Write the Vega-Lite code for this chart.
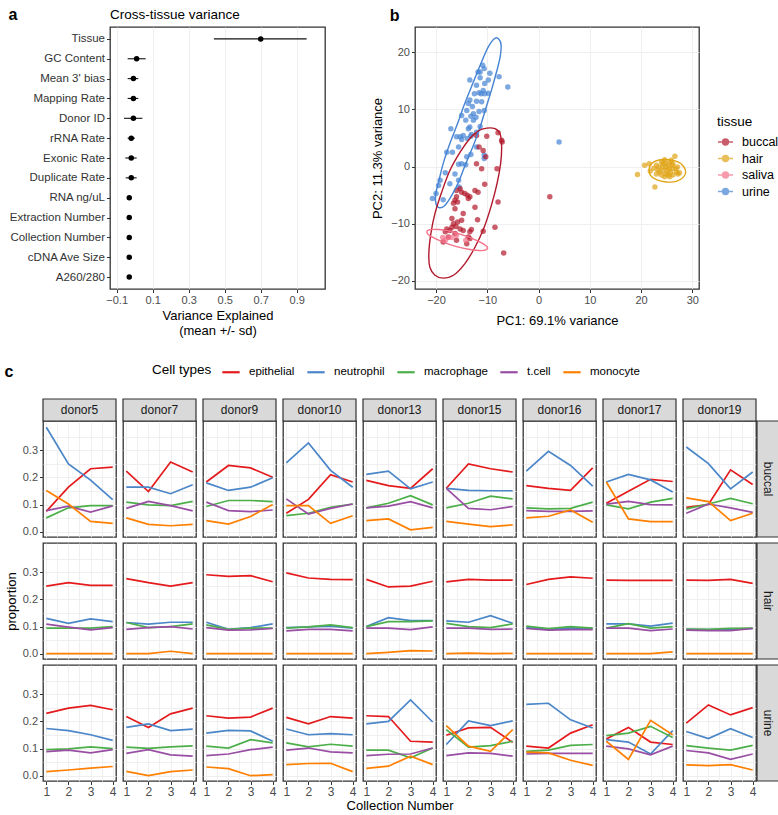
{
"$schema":"https://vega.github.io/schema/vega-lite/v6.json",
"padding":{"left":4,"top":6,"right":0,"bottom":0},
"config":{"font":"Liberation Sans","view":{"stroke":"#333","strokeWidth":1.3},
"axis":{"gridColor":"#ebebeb","gridWidth":0.8,"domain":false,"labelOverlap":false,"labelFlush":false,"tickColor":"#333","tickSize":3.5,"labelColor":"#4d4d4d","labelFontSize":11,"titleFontWeight":"normal","titleFontSize":13,"titleColor":"#000","labelPadding":2},
"legend":{"titleFontWeight":"normal","labelColor":"#000","titleColor":"#000"},
"title":{"fontWeight":"normal","color":"#000"}},
"datasets":{
"va":[{"v":"Tissue","m":0.70,"lo":0.44,"hi":0.955},{"v":"GC Content","m":0.011,"lo":-0.039,"hi":0.061},{"v":"Mean 3' bias","m":-0.007,"lo":-0.039,"hi":0.02},{"v":"Mapping Rate","m":-0.007,"lo":-0.039,"hi":0.02},{"v":"Donor ID","m":-0.007,"lo":-0.059,"hi":0.043},{"v":"rRNA Rate","m":-0.019,"lo":-0.039,"hi":0.002},{"v":"Exonic Rate","m":-0.019,"lo":-0.052,"hi":0.011},{"v":"Duplicate Rate","m":-0.019,"lo":-0.05,"hi":0.011},{"v":"RNA ng/uL","m":-0.03,"lo":-0.03,"hi":-0.03},{"v":"Extraction Number","m":-0.03,"lo":-0.03,"hi":-0.03},{"v":"Collection Number","m":-0.03,"lo":-0.03,"hi":-0.03},{"v":"cDNA Ave Size","m":-0.03,"lo":-0.03,"hi":-0.03},{"v":"A260/280","m":-0.03,"lo":-0.03,"hi":-0.03}],
"pts":[{"tissue":"urine","x":-10.9,"y":17.7},{"tissue":"urine","x":-10.6,"y":17.1},{"tissue":"urine","x":-11.4,"y":16.5},{"tissue":"urine","x":-11.8,"y":16.5},{"tissue":"urine","x":-9.5,"y":16.3},{"tissue":"urine","x":-7.7,"y":15.7},{"tissue":"urine","x":-6.0,"y":13.9},{"tissue":"urine","x":-13.4,"y":15.1},{"tissue":"urine","x":-11.4,"y":15.5},{"tissue":"urine","x":-9.8,"y":15.1},{"tissue":"urine","x":-10.5,"y":14.5},{"tissue":"urine","x":-12.1,"y":14.2},{"tissue":"urine","x":-10.8,"y":13.3},{"tissue":"urine","x":-11.6,"y":12.9},{"tissue":"urine","x":-9.8,"y":12.8},{"tissue":"urine","x":-12.5,"y":12.7},{"tissue":"urine","x":-11.2,"y":12.7},{"tissue":"urine","x":-10.5,"y":12.7},{"tissue":"urine","x":-13.4,"y":11.6},{"tissue":"urine","x":-12.1,"y":11.4},{"tissue":"urine","x":-11.1,"y":11.3},{"tissue":"urine","x":-13.7,"y":11.0},{"tissue":"urine","x":-12.9,"y":10.5},{"tissue":"urine","x":-10.6,"y":9.8},{"tissue":"urine","x":-14.0,"y":9.8},{"tissue":"urine","x":-11.6,"y":9.6},{"tissue":"urine","x":-12.7,"y":9.2},{"tissue":"urine","x":-15.0,"y":8.9},{"tissue":"urine","x":-13.2,"y":8.8},{"tissue":"urine","x":-12.2,"y":8.6},{"tissue":"urine","x":-14.2,"y":8.1},{"tissue":"urine","x":-12.7,"y":8.1},{"tissue":"urine","x":-13.4,"y":6.9},{"tissue":"urine","x":-11.4,"y":7.0},{"tissue":"urine","x":-12.1,"y":6.0},{"tissue":"urine","x":-13.7,"y":6.6},{"tissue":"urine","x":-17.1,"y":6.6},{"tissue":"urine","x":-14.7,"y":5.4},{"tissue":"urine","x":-16.0,"y":5.2},{"tissue":"urine","x":-15.3,"y":5.2},{"tissue":"urine","x":-13.1,"y":5.6},{"tissue":"urine","x":-13.2,"y":5.3},{"tissue":"urine","x":-13.9,"y":4.9},{"tissue":"urine","x":-15.0,"y":4.7},{"tissue":"urine","x":-15.6,"y":3.4},{"tissue":"urine","x":-12.1,"y":3.4},{"tissue":"urine","x":-17.9,"y":2.5},{"tissue":"urine","x":-16.8,"y":2.5},{"tissue":"urine","x":-13.2,"y":2.1},{"tissue":"urine","x":-10.6,"y":2.0},{"tissue":"urine","x":-10.6,"y":1.4},{"tissue":"urine","x":-14.0,"y":1.7},{"tissue":"urine","x":-15.0,"y":0.5},{"tissue":"urine","x":-15.6,"y":0.4},{"tissue":"urine","x":-14.2,"y":0.3},{"tissue":"urine","x":-16.3,"y":-1.3},{"tissue":"urine","x":-18.2,"y":-1.1},{"tissue":"urine","x":-19.2,"y":-2.4},{"tissue":"urine","x":-15.6,"y":-2.4},{"tissue":"urine","x":-17.3,"y":-3.0},{"tissue":"urine","x":-19.5,"y":-3.3},{"tissue":"urine","x":-15.5,"y":-3.6},{"tissue":"urine","x":-20.7,"y":-5.6},{"tissue":"urine","x":-18.6,"y":-5.8},{"tissue":"urine","x":-20.0,"y":-4.7},{"tissue":"urine","x":4.0,"y":4.3},
{"tissue":"buccal","x":-7.9,"y":5.9},{"tissue":"buccal","x":-7.2,"y":4.6},{"tissue":"buccal","x":-7.1,"y":4.3},{"tissue":"buccal","x":-10.1,"y":5.3},{"tissue":"buccal","x":-12.1,"y":5.4},{"tissue":"buccal","x":-11.6,"y":3.4},{"tissue":"buccal","x":-10.8,"y":2.8},{"tissue":"buccal","x":-10.3,"y":1.7},{"tissue":"buccal","x":-12.1,"y":0.5},{"tissue":"buccal","x":-11.1,"y":-0.4},{"tissue":"buccal","x":-8.1,"y":-0.4},{"tissue":"buccal","x":-10.5,"y":-3.1},{"tissue":"buccal","x":-12.4,"y":-4.2},{"tissue":"buccal","x":-11.8,"y":-4.5},{"tissue":"buccal","x":-15.3,"y":-3.9},{"tissue":"buccal","x":-16.0,"y":-4.2},{"tissue":"buccal","x":-15.0,"y":-4.5},{"tissue":"buccal","x":-14.4,"y":-4.7},{"tissue":"buccal","x":-13.9,"y":-5.0},{"tissue":"buccal","x":-13.7,"y":-5.6},{"tissue":"buccal","x":-16.0,"y":-5.3},{"tissue":"buccal","x":-13.4,"y":-5.3},{"tissue":"buccal","x":-16.3,"y":-5.9},{"tissue":"buccal","x":-15.8,"y":-6.2},{"tissue":"buccal","x":-16.6,"y":-6.4},{"tissue":"buccal","x":-7.9,"y":-6.2},{"tissue":"buccal","x":-12.4,"y":-7.1},{"tissue":"buccal","x":-16.3,"y":-7.4},{"tissue":"buccal","x":-14.7,"y":-8.2},{"tissue":"buccal","x":-16.9,"y":-9.1},{"tissue":"buccal","x":-15.0,"y":-9.4},{"tissue":"buccal","x":-15.8,"y":-9.7},{"tissue":"buccal","x":-16.6,"y":-10.0},{"tissue":"buccal","x":-11.9,"y":-9.3},{"tissue":"buccal","x":-16.1,"y":-10.5},{"tissue":"buccal","x":-16.9,"y":-10.6},{"tissue":"buccal","x":-17.9,"y":-10.9},{"tissue":"buccal","x":-17.3,"y":-11.2},{"tissue":"buccal","x":-15.3,"y":-10.9},{"tissue":"buccal","x":-14.7,"y":-11.2},{"tissue":"buccal","x":-13.1,"y":-11.0},{"tissue":"buccal","x":-10.8,"y":-11.3},{"tissue":"buccal","x":-8.5,"y":-10.6},{"tissue":"buccal","x":-18.2,"y":-11.4},{"tissue":"buccal","x":-16.3,"y":-11.7},{"tissue":"buccal","x":-17.6,"y":-12.3},{"tissue":"buccal","x":-13.7,"y":-12.3},{"tissue":"buccal","x":-16.0,"y":-12.9},{"tissue":"buccal","x":-18.6,"y":-13.2},{"tissue":"buccal","x":-14.0,"y":-13.5},{"tissue":"buccal","x":-13.4,"y":-12.6},{"tissue":"buccal","x":-6.8,"y":-15.1},{"tissue":"buccal","x":2.2,"y":-5.3},{"tissue":"buccal","x":-13.4,"y":-11.4},
{"tissue":"saliva","x":-18.7,"y":-12.4},{"tissue":"saliva","x":-17.6,"y":-12.4},{"tissue":"saliva","x":-16.9,"y":-12.4},{"tissue":"saliva","x":-14.2,"y":-12.9},{"tissue":"saliva","x":-16.0,"y":-12.0},{"tissue":"saliva","x":-18.2,"y":-12.9},
{"tissue":"hair","x":19.3,"y":-1.4},{"tissue":"hair","x":20.7,"y":0.2},{"tissue":"hair","x":21.6,"y":0.5},{"tissue":"hair","x":21.8,"y":-0.8},{"tissue":"hair","x":22.5,"y":-0.3},{"tissue":"hair","x":23.0,"y":0.2},{"tissue":"hair","x":23.5,"y":-0.1},{"tissue":"hair","x":24.0,"y":0.8},{"tissue":"hair","x":24.3,"y":0.5},{"tissue":"hair","x":24.6,"y":1.2},{"tissue":"hair","x":24.9,"y":-0.1},{"tissue":"hair","x":25.3,"y":0.2},{"tissue":"hair","x":25.6,"y":0.8},{"tissue":"hair","x":25.9,"y":1.1},{"tissue":"hair","x":26.2,"y":0.5},{"tissue":"hair","x":26.6,"y":1.8},{"tissue":"hair","x":26.1,"y":-0.4},{"tissue":"hair","x":25.7,"y":-1.0},{"tissue":"hair","x":24.9,"y":-1.3},{"tissue":"hair","x":24.3,"y":-0.7},{"tissue":"hair","x":23.6,"y":-1.0},{"tissue":"hair","x":24.0,"y":-1.5},{"tissue":"hair","x":24.6,"y":-1.8},{"tissue":"hair","x":25.3,"y":-1.5},{"tissue":"hair","x":25.6,"y":-1.8},{"tissue":"hair","x":26.2,"y":-1.5},{"tissue":"hair","x":26.9,"y":-1.0},{"tissue":"hair","x":27.2,"y":-1.3},{"tissue":"hair","x":27.5,"y":-1.1},{"tissue":"hair","x":26.8,"y":-0.4},{"tissue":"hair","x":27.1,"y":-0.1},{"tissue":"hair","x":25.1,"y":-0.7},{"tissue":"hair","x":24.2,"y":-0.1},{"tissue":"hair","x":25.5,"y":-0.4},{"tissue":"hair","x":26.1,"y":0.2},{"tissue":"hair","x":22.7,"y":-3.6},{"tissue":"hair","x":23.3,"y":-0.6},{"tissue":"hair","x":24.7,"y":0.6},{"tissue":"hair","x":23.0,"y":-1.3}],
"ell":[{"tissue":"urine","o":1,"x":-8.5,"y":22.4},{"tissue":"urine","o":2,"x":-7.7,"y":22.2},{"tissue":"urine","o":3,"x":-7.3,"y":21.2},{"tissue":"urine","o":4,"x":-7.5,"y":19.1},{"tissue":"urine","o":5,"x":-8.2,"y":16.5},{"tissue":"urine","o":6,"x":-9.2,"y":13.3},{"tissue":"urine","o":7,"x":-10.3,"y":10.1},{"tissue":"urine","o":8,"x":-11.4,"y":6.9},{"tissue":"urine","o":9,"x":-12.7,"y":3.7},{"tissue":"urine","o":10,"x":-14.2,"y":0.5},{"tissue":"urine","o":11,"x":-15.6,"y":-2.7},{"tissue":"urine","o":12,"x":-17.1,"y":-5.3},{"tissue":"urine","o":13,"x":-18.4,"y":-6.9},{"tissue":"urine","o":14,"x":-19.4,"y":-7.2},{"tissue":"urine","o":15,"x":-20.0,"y":-6.6},{"tissue":"urine","o":16,"x":-20.1,"y":-5.0},{"tissue":"urine","o":17,"x":-19.5,"y":-2.7},{"tissue":"urine","o":18,"x":-18.6,"y":0.5},{"tissue":"urine","o":19,"x":-17.3,"y":4.0},{"tissue":"urine","o":20,"x":-15.8,"y":7.5},{"tissue":"urine","o":21,"x":-14.4,"y":11.0},{"tissue":"urine","o":22,"x":-12.7,"y":14.8},{"tissue":"urine","o":23,"x":-11.1,"y":18.3},{"tissue":"urine","o":24,"x":-9.8,"y":20.9},
{"tissue":"buccal","o":1,"x":-10.1,"y":6.7},{"tissue":"buccal","o":2,"x":-8.5,"y":6.6},{"tissue":"buccal","o":3,"x":-7.5,"y":5.7},{"tissue":"buccal","o":4,"x":-7.2,"y":3.4},{"tissue":"buccal","o":5,"x":-7.4,"y":0.5},{"tissue":"buccal","o":6,"x":-8.1,"y":-3.0},{"tissue":"buccal","o":7,"x":-9.2,"y":-6.8},{"tissue":"buccal","o":8,"x":-10.6,"y":-10.6},{"tissue":"buccal","o":9,"x":-12.4,"y":-14.1},{"tissue":"buccal","o":10,"x":-14.4,"y":-17.0},{"tissue":"buccal","o":11,"x":-16.6,"y":-19.0},{"tissue":"buccal","o":12,"x":-18.6,"y":-19.5},{"tissue":"buccal","o":13,"x":-20.2,"y":-19.0},{"tissue":"buccal","o":14,"x":-21.2,"y":-17.6},{"tissue":"buccal","o":15,"x":-21.4,"y":-15.2},{"tissue":"buccal","o":16,"x":-21.0,"y":-11.7},{"tissue":"buccal","o":17,"x":-20.2,"y":-8.2},{"tissue":"buccal","o":18,"x":-18.9,"y":-4.5},{"tissue":"buccal","o":19,"x":-17.3,"y":-0.7},{"tissue":"buccal","o":20,"x":-15.3,"y":2.5},{"tissue":"buccal","o":21,"x":-13.4,"y":4.9},{"tissue":"buccal","o":22,"x":-11.8,"y":6.2},
{"tissue":"saliva","o":1,"x":-21.5,"y":-11.1},{"tissue":"saliva","o":2,"x":-19.5,"y":-11.0},{"tissue":"saliva","o":3,"x":-17.3,"y":-11.3},{"tissue":"saliva","o":4,"x":-14.7,"y":-12.0},{"tissue":"saliva","o":5,"x":-12.1,"y":-12.9},{"tissue":"saliva","o":6,"x":-10.3,"y":-13.8},{"tissue":"saliva","o":7,"x":-10.0,"y":-14.4},{"tissue":"saliva","o":8,"x":-11.1,"y":-14.7},{"tissue":"saliva","o":9,"x":-13.4,"y":-14.5},{"tissue":"saliva","o":10,"x":-16.0,"y":-14.0},{"tissue":"saliva","o":11,"x":-18.6,"y":-13.2},{"tissue":"saliva","o":12,"x":-20.8,"y":-12.3},{"tissue":"saliva","o":13,"x":-21.7,"y":-11.7},
{"tissue":"hair","o":1,"x":21.6,"y":-0.4},{"tissue":"hair","o":2,"x":22.0,"y":0.5},{"tissue":"hair","o":3,"x":23.3,"y":1.1},{"tissue":"hair","o":4,"x":25.3,"y":1.2},{"tissue":"hair","o":5,"x":27.2,"y":0.8},{"tissue":"hair","o":6,"x":28.3,"y":0.0},{"tissue":"hair","o":7,"x":28.7,"y":-1.0},{"tissue":"hair","o":8,"x":28.2,"y":-1.9},{"tissue":"hair","o":9,"x":26.9,"y":-2.6},{"tissue":"hair","o":10,"x":24.9,"y":-2.7},{"tissue":"hair","o":11,"x":23.0,"y":-2.3},{"tissue":"hair","o":12,"x":21.8,"y":-1.5}],
"buccal_donor5":[{"c":"epithelial","n":1,"p":0.075},{"c":"epithelial","n":2,"p":0.164},{"c":"epithelial","n":3,"p":0.232},{"c":"epithelial","n":4,"p":0.238},{"c":"neutrophil","n":1,"p":0.385},{"c":"neutrophil","n":2,"p":0.25},{"c":"neutrophil","n":3,"p":0.19},{"c":"neutrophil","n":4,"p":0.118},{"c":"macrophage","n":1,"p":0.051},{"c":"macrophage","n":2,"p":0.088},{"c":"macrophage","n":3,"p":0.096},{"c":"macrophage","n":4,"p":0.096},{"c":"t.cell","n":1,"p":0.078},{"c":"t.cell","n":2,"p":0.094},{"c":"t.cell","n":3,"p":0.072},{"c":"t.cell","n":4,"p":0.095},{"c":"monocyte","n":1,"p":0.152},{"c":"monocyte","n":2,"p":0.102},{"c":"monocyte","n":3,"p":0.038},{"c":"monocyte","n":4,"p":0.031}],
"buccal_donor7":[{"c":"epithelial","n":1,"p":0.223},{"c":"epithelial","n":2,"p":0.148},{"c":"epithelial","n":3,"p":0.257},{"c":"epithelial","n":4,"p":0.22},{"c":"neutrophil","n":1,"p":0.164},{"c":"neutrophil","n":2,"p":0.164},{"c":"neutrophil","n":3,"p":0.14},{"c":"neutrophil","n":4,"p":0.173},{"c":"macrophage","n":1,"p":0.109},{"c":"macrophage","n":2,"p":0.099},{"c":"macrophage","n":3,"p":0.096},{"c":"macrophage","n":4,"p":0.112},{"c":"t.cell","n":1,"p":0.086},{"c":"t.cell","n":2,"p":0.112},{"c":"t.cell","n":3,"p":0.096},{"c":"t.cell","n":4,"p":0.077},{"c":"monocyte","n":1,"p":0.051},{"c":"monocyte","n":2,"p":0.027},{"c":"monocyte","n":3,"p":0.022},{"c":"monocyte","n":4,"p":0.027}],
"buccal_donor9":[{"c":"epithelial","n":1,"p":0.183},{"c":"epithelial","n":2,"p":0.244},{"c":"epithelial","n":3,"p":0.235},{"c":"epithelial","n":4,"p":0.201},{"c":"neutrophil","n":1,"p":0.18},{"c":"neutrophil","n":2,"p":0.152},{"c":"neutrophil","n":3,"p":0.164},{"c":"neutrophil","n":4,"p":0.199},{"c":"macrophage","n":1,"p":0.093},{"c":"macrophage","n":2,"p":0.115},{"c":"macrophage","n":3,"p":0.115},{"c":"macrophage","n":4,"p":0.111},{"c":"t.cell","n":1,"p":0.109},{"c":"t.cell","n":2,"p":0.078},{"c":"t.cell","n":3,"p":0.074},{"c":"t.cell","n":4,"p":0.08},{"c":"monocyte","n":1,"p":0.041},{"c":"monocyte","n":2,"p":0.028},{"c":"monocyte","n":3,"p":0.056},{"c":"monocyte","n":4,"p":0.1}],
"buccal_donor10":[{"c":"epithelial","n":1,"p":0.068},{"c":"epithelial","n":2,"p":0.119},{"c":"epithelial","n":3,"p":0.21},{"c":"epithelial","n":4,"p":0.183},{"c":"neutrophil","n":1,"p":0.254},{"c":"neutrophil","n":2,"p":0.327},{"c":"neutrophil","n":3,"p":0.226},{"c":"neutrophil","n":4,"p":0.164},{"c":"macrophage","n":1,"p":0.059},{"c":"macrophage","n":2,"p":0.068},{"c":"macrophage","n":3,"p":0.09},{"c":"macrophage","n":4,"p":0.102},{"c":"t.cell","n":1,"p":0.121},{"c":"t.cell","n":2,"p":0.065},{"c":"t.cell","n":3,"p":0.086},{"c":"t.cell","n":4,"p":0.102},{"c":"monocyte","n":1,"p":0.096},{"c":"monocyte","n":2,"p":0.096},{"c":"monocyte","n":3,"p":0.031},{"c":"monocyte","n":4,"p":0.059}],
"buccal_donor13":[{"c":"epithelial","n":1,"p":0.189},{"c":"epithelial","n":2,"p":0.17},{"c":"epithelial","n":3,"p":0.16},{"c":"epithelial","n":4,"p":0.232},{"c":"neutrophil","n":1,"p":0.211},{"c":"neutrophil","n":2,"p":0.223},{"c":"neutrophil","n":3,"p":0.158},{"c":"neutrophil","n":4,"p":0.183},{"c":"macrophage","n":1,"p":0.088},{"c":"macrophage","n":2,"p":0.105},{"c":"macrophage","n":3,"p":0.133},{"c":"macrophage","n":4,"p":0.099},{"c":"t.cell","n":1,"p":0.088},{"c":"t.cell","n":2,"p":0.094},{"c":"t.cell","n":3,"p":0.111},{"c":"t.cell","n":4,"p":0.088},{"c":"monocyte","n":1,"p":0.041},{"c":"monocyte","n":2,"p":0.047},{"c":"monocyte","n":3,"p":0.007},{"c":"monocyte","n":4,"p":0.016}],
"buccal_donor15":[{"c":"epithelial","n":1,"p":0.16},{"c":"epithelial","n":2,"p":0.25},{"c":"epithelial","n":3,"p":0.232},{"c":"epithelial","n":4,"p":0.22},{"c":"neutrophil","n":1,"p":0.16},{"c":"neutrophil","n":2,"p":0.152},{"c":"neutrophil","n":3,"p":0.151},{"c":"neutrophil","n":4,"p":0.151},{"c":"macrophage","n":1,"p":0.088},{"c":"macrophage","n":2,"p":0.105},{"c":"macrophage","n":3,"p":0.131},{"c":"macrophage","n":4,"p":0.121},{"c":"t.cell","n":1,"p":0.16},{"c":"t.cell","n":2,"p":0.086},{"c":"t.cell","n":3,"p":0.081},{"c":"t.cell","n":4,"p":0.093},{"c":"monocyte","n":1,"p":0.038},{"c":"monocyte","n":2,"p":0.028},{"c":"monocyte","n":3,"p":0.019},{"c":"monocyte","n":4,"p":0.025}],
"buccal_donor16":[{"c":"epithelial","n":1,"p":0.17},{"c":"epithelial","n":2,"p":0.16},{"c":"epithelial","n":3,"p":0.152},{"c":"epithelial","n":4,"p":0.235},{"c":"neutrophil","n":1,"p":0.223},{"c":"neutrophil","n":2,"p":0.296},{"c":"neutrophil","n":3,"p":0.244},{"c":"neutrophil","n":4,"p":0.168},{"c":"macrophage","n":1,"p":0.088},{"c":"macrophage","n":2,"p":0.084},{"c":"macrophage","n":3,"p":0.086},{"c":"macrophage","n":4,"p":0.109},{"c":"t.cell","n":1,"p":0.078},{"c":"t.cell","n":2,"p":0.075},{"c":"t.cell","n":3,"p":0.075},{"c":"t.cell","n":4,"p":0.077},{"c":"monocyte","n":1,"p":0.051},{"c":"monocyte","n":2,"p":0.057},{"c":"monocyte","n":3,"p":0.08},{"c":"monocyte","n":4,"p":0.035}],
"buccal_donor17":[{"c":"epithelial","n":1,"p":0.105},{"c":"epithelial","n":2,"p":0.149},{"c":"epithelial","n":3,"p":0.193},{"c":"epithelial","n":4,"p":0.185},{"c":"neutrophil","n":1,"p":0.183},{"c":"neutrophil","n":2,"p":0.211},{"c":"neutrophil","n":3,"p":0.191},{"c":"neutrophil","n":4,"p":0.146},{"c":"macrophage","n":1,"p":0.099},{"c":"macrophage","n":2,"p":0.084},{"c":"macrophage","n":3,"p":0.109},{"c":"macrophage","n":4,"p":0.123},{"c":"t.cell","n":1,"p":0.102},{"c":"t.cell","n":2,"p":0.112},{"c":"t.cell","n":3,"p":0.1},{"c":"t.cell","n":4,"p":0.099},{"c":"monocyte","n":1,"p":0.183},{"c":"monocyte","n":2,"p":0.047},{"c":"monocyte","n":3,"p":0.037},{"c":"monocyte","n":4,"p":0.037}],
"buccal_donor19":[{"c":"epithelial","n":1,"p":0.09},{"c":"epithelial","n":2,"p":0.1},{"c":"epithelial","n":3,"p":0.228},{"c":"epithelial","n":4,"p":0.174},{"c":"neutrophil","n":1,"p":0.312},{"c":"neutrophil","n":2,"p":0.251},{"c":"neutrophil","n":3,"p":0.158},{"c":"neutrophil","n":4,"p":0.22},{"c":"macrophage","n":1,"p":0.084},{"c":"macrophage","n":2,"p":0.102},{"c":"macrophage","n":3,"p":0.123},{"c":"macrophage","n":4,"p":0.103},{"c":"t.cell","n":1,"p":0.068},{"c":"t.cell","n":2,"p":0.102},{"c":"t.cell","n":3,"p":0.088},{"c":"t.cell","n":4,"p":0.071},{"c":"monocyte","n":1,"p":0.125},{"c":"monocyte","n":2,"p":0.111},{"c":"monocyte","n":3,"p":0.041},{"c":"monocyte","n":4,"p":0.068}],
"hair_donor5":[{"c":"epithelial","n":1,"p":0.249},{"c":"epithelial","n":2,"p":0.262},{"c":"epithelial","n":3,"p":0.252},{"c":"epithelial","n":4,"p":0.252},{"c":"neutrophil","n":1,"p":0.13},{"c":"neutrophil","n":2,"p":0.112},{"c":"neutrophil","n":3,"p":0.128},{"c":"neutrophil","n":4,"p":0.118},{"c":"macrophage","n":1,"p":0.094},{"c":"macrophage","n":2,"p":0.094},{"c":"macrophage","n":3,"p":0.094},{"c":"macrophage","n":4,"p":0.1},{"c":"t.cell","n":1,"p":0.109},{"c":"t.cell","n":2,"p":0.098},{"c":"t.cell","n":3,"p":0.088},{"c":"t.cell","n":4,"p":0.096},{"c":"monocyte","n":1,"p":0},{"c":"monocyte","n":2,"p":0},{"c":"monocyte","n":3,"p":0},{"c":"monocyte","n":4,"p":0}],
"hair_donor7":[{"c":"epithelial","n":1,"p":0.277},{"c":"epithelial","n":2,"p":0.262},{"c":"epithelial","n":3,"p":0.249},{"c":"epithelial","n":4,"p":0.262},{"c":"neutrophil","n":1,"p":0.115},{"c":"neutrophil","n":2,"p":0.109},{"c":"neutrophil","n":3,"p":0.116},{"c":"neutrophil","n":4,"p":0.116},{"c":"macrophage","n":1,"p":0.115},{"c":"macrophage","n":2,"p":0.096},{"c":"macrophage","n":3,"p":0.1},{"c":"macrophage","n":4,"p":0.11},{"c":"t.cell","n":1,"p":0.09},{"c":"t.cell","n":2,"p":0.096},{"c":"t.cell","n":3,"p":0.1},{"c":"t.cell","n":4,"p":0.091},{"c":"monocyte","n":1,"p":0},{"c":"monocyte","n":2,"p":0},{"c":"monocyte","n":3,"p":0.009},{"c":"monocyte","n":4,"p":0}],
"hair_donor9":[{"c":"epithelial","n":1,"p":0.291},{"c":"epithelial","n":2,"p":0.285},{"c":"epithelial","n":3,"p":0.288},{"c":"epithelial","n":4,"p":0.265},{"c":"neutrophil","n":1,"p":0.116},{"c":"neutrophil","n":2,"p":0.09},{"c":"neutrophil","n":3,"p":0.096},{"c":"neutrophil","n":4,"p":0.11},{"c":"macrophage","n":1,"p":0.106},{"c":"macrophage","n":2,"p":0.09},{"c":"macrophage","n":3,"p":0.094},{"c":"macrophage","n":4,"p":0.094},{"c":"t.cell","n":1,"p":0.096},{"c":"t.cell","n":2,"p":0.087},{"c":"t.cell","n":3,"p":0.088},{"c":"t.cell","n":4,"p":0.093},{"c":"monocyte","n":1,"p":0},{"c":"monocyte","n":2,"p":0},{"c":"monocyte","n":3,"p":0},{"c":"monocyte","n":4,"p":0}],
"hair_donor10":[{"c":"epithelial","n":1,"p":0.298},{"c":"epithelial","n":2,"p":0.279},{"c":"epithelial","n":3,"p":0.274},{"c":"epithelial","n":4,"p":0.273},{"c":"neutrophil","n":1,"p":0.096},{"c":"neutrophil","n":2,"p":0.099},{"c":"neutrophil","n":3,"p":0.102},{"c":"neutrophil","n":4,"p":0.094},{"c":"macrophage","n":1,"p":0.094},{"c":"macrophage","n":2,"p":0.099},{"c":"macrophage","n":3,"p":0.106},{"c":"macrophage","n":4,"p":0.096},{"c":"t.cell","n":1,"p":0.084},{"c":"t.cell","n":2,"p":0.09},{"c":"t.cell","n":3,"p":0.09},{"c":"t.cell","n":4,"p":0.084},{"c":"monocyte","n":1,"p":0},{"c":"monocyte","n":2,"p":0},{"c":"monocyte","n":3,"p":0},{"c":"monocyte","n":4,"p":0}],
"hair_donor13":[{"c":"epithelial","n":1,"p":0.274},{"c":"epithelial","n":2,"p":0.246},{"c":"epithelial","n":3,"p":0.249},{"c":"epithelial","n":4,"p":0.267},{"c":"neutrophil","n":1,"p":0.1},{"c":"neutrophil","n":2,"p":0.133},{"c":"neutrophil","n":3,"p":0.122},{"c":"neutrophil","n":4,"p":0.122},{"c":"macrophage","n":1,"p":0.1},{"c":"macrophage","n":2,"p":0.118},{"c":"macrophage","n":3,"p":0.118},{"c":"macrophage","n":4,"p":0.121},{"c":"t.cell","n":1,"p":0.094},{"c":"t.cell","n":2,"p":0.094},{"c":"t.cell","n":3,"p":0.089},{"c":"t.cell","n":4,"p":0.099},{"c":"monocyte","n":1,"p":0},{"c":"monocyte","n":2,"p":0.005},{"c":"monocyte","n":3,"p":0.011},{"c":"monocyte","n":4,"p":0.01}],
"hair_donor15":[{"c":"epithelial","n":1,"p":0.265},{"c":"epithelial","n":2,"p":0.274},{"c":"epithelial","n":3,"p":0.271},{"c":"epithelial","n":4,"p":0.271},{"c":"neutrophil","n":1,"p":0.121},{"c":"neutrophil","n":2,"p":0.116},{"c":"neutrophil","n":3,"p":0.14},{"c":"neutrophil","n":4,"p":0.112},{"c":"macrophage","n":1,"p":0.112},{"c":"macrophage","n":2,"p":0.1},{"c":"macrophage","n":3,"p":0.096},{"c":"macrophage","n":4,"p":0.11},{"c":"t.cell","n":1,"p":0.094},{"c":"t.cell","n":2,"p":0.094},{"c":"t.cell","n":3,"p":0.09},{"c":"t.cell","n":4,"p":0.091},{"c":"monocyte","n":1,"p":0},{"c":"monocyte","n":2,"p":0.002},{"c":"monocyte","n":3,"p":0},{"c":"monocyte","n":4,"p":0.001}],
"hair_donor16":[{"c":"epithelial","n":1,"p":0.255},{"c":"epithelial","n":2,"p":0.274},{"c":"epithelial","n":3,"p":0.283},{"c":"epithelial","n":4,"p":0.278},{"c":"neutrophil","n":1,"p":0.096},{"c":"neutrophil","n":2,"p":0.09},{"c":"neutrophil","n":3,"p":0.095},{"c":"neutrophil","n":4,"p":0.093},{"c":"macrophage","n":1,"p":0.102},{"c":"macrophage","n":2,"p":0.093},{"c":"macrophage","n":3,"p":0.1},{"c":"macrophage","n":4,"p":0.094},{"c":"t.cell","n":1,"p":0.093},{"c":"t.cell","n":2,"p":0.087},{"c":"t.cell","n":3,"p":0.089},{"c":"t.cell","n":4,"p":0.089},{"c":"monocyte","n":1,"p":0},{"c":"monocyte","n":2,"p":0},{"c":"monocyte","n":3,"p":0},{"c":"monocyte","n":4,"p":0}],
"hair_donor17":[{"c":"epithelial","n":1,"p":0.271},{"c":"epithelial","n":2,"p":0.27},{"c":"epithelial","n":3,"p":0.27},{"c":"epithelial","n":4,"p":0.27},{"c":"neutrophil","n":1,"p":0.11},{"c":"neutrophil","n":2,"p":0.11},{"c":"neutrophil","n":3,"p":0.102},{"c":"neutrophil","n":4,"p":0.113},{"c":"macrophage","n":1,"p":0.094},{"c":"macrophage","n":2,"p":0.111},{"c":"macrophage","n":3,"p":0.094},{"c":"macrophage","n":4,"p":0.1},{"c":"t.cell","n":1,"p":0.094},{"c":"t.cell","n":2,"p":0.094},{"c":"t.cell","n":3,"p":0.085},{"c":"t.cell","n":4,"p":0.091},{"c":"monocyte","n":1,"p":0},{"c":"monocyte","n":2,"p":0},{"c":"monocyte","n":3,"p":0},{"c":"monocyte","n":4,"p":0.007}],
"hair_donor19":[{"c":"epithelial","n":1,"p":0.271},{"c":"epithelial","n":2,"p":0.27},{"c":"epithelial","n":3,"p":0.274},{"c":"epithelial","n":4,"p":0.259},{"c":"neutrophil","n":1,"p":0.09},{"c":"neutrophil","n":2,"p":0.089},{"c":"neutrophil","n":3,"p":0.089},{"c":"neutrophil","n":4,"p":0.093},{"c":"macrophage","n":1,"p":0.091},{"c":"macrophage","n":2,"p":0.09},{"c":"macrophage","n":3,"p":0.093},{"c":"macrophage","n":4,"p":0.094},{"c":"t.cell","n":1,"p":0.087},{"c":"t.cell","n":2,"p":0.085},{"c":"t.cell","n":3,"p":0.085},{"c":"t.cell","n":4,"p":0.093},{"c":"monocyte","n":1,"p":0},{"c":"monocyte","n":2,"p":0},{"c":"monocyte","n":3,"p":0},{"c":"monocyte","n":4,"p":0}],
"urine_donor5":[{"c":"epithelial","n":1,"p":0.23},{"c":"epithelial","n":2,"p":0.249},{"c":"epithelial","n":3,"p":0.259},{"c":"epithelial","n":4,"p":0.243},{"c":"neutrophil","n":1,"p":0.174},{"c":"neutrophil","n":2,"p":0.166},{"c":"neutrophil","n":3,"p":0.151},{"c":"neutrophil","n":4,"p":0.13},{"c":"macrophage","n":1,"p":0.096},{"c":"macrophage","n":2,"p":0.099},{"c":"macrophage","n":3,"p":0.106},{"c":"macrophage","n":4,"p":0.1},{"c":"t.cell","n":1,"p":0.089},{"c":"t.cell","n":2,"p":0.094},{"c":"t.cell","n":3,"p":0.084},{"c":"t.cell","n":4,"p":0.096},{"c":"monocyte","n":1,"p":0.015},{"c":"monocyte","n":2,"p":0.021},{"c":"monocyte","n":3,"p":0.028},{"c":"monocyte","n":4,"p":0.034}],
"urine_donor7":[{"c":"epithelial","n":1,"p":0.218},{"c":"epithelial","n":2,"p":0.178},{"c":"epithelial","n":3,"p":0.228},{"c":"epithelial","n":4,"p":0.249},{"c":"neutrophil","n":1,"p":0.178},{"c":"neutrophil","n":2,"p":0.191},{"c":"neutrophil","n":3,"p":0.166},{"c":"neutrophil","n":4,"p":0.172},{"c":"macrophage","n":1,"p":0.105},{"c":"macrophage","n":2,"p":0.101},{"c":"macrophage","n":3,"p":0.106},{"c":"macrophage","n":4,"p":0.11},{"c":"t.cell","n":1,"p":0.082},{"c":"t.cell","n":2,"p":0.096},{"c":"t.cell","n":3,"p":0.077},{"c":"t.cell","n":4,"p":0.072},{"c":"monocyte","n":1,"p":0.016},{"c":"monocyte","n":2,"p":0},{"c":"monocyte","n":3,"p":0.015},{"c":"monocyte","n":4,"p":0.021}],
"urine_donor9":[{"c":"epithelial","n":1,"p":0.221},{"c":"epithelial","n":2,"p":0.212},{"c":"epithelial","n":3,"p":0.216},{"c":"epithelial","n":4,"p":0.249},{"c":"neutrophil","n":1,"p":0.157},{"c":"neutrophil","n":2,"p":0.167},{"c":"neutrophil","n":3,"p":0.165},{"c":"neutrophil","n":4,"p":0.127},{"c":"macrophage","n":1,"p":0.109},{"c":"macrophage","n":2,"p":0.102},{"c":"macrophage","n":3,"p":0.133},{"c":"macrophage","n":4,"p":0.121},{"c":"t.cell","n":1,"p":0.074},{"c":"t.cell","n":2,"p":0.08},{"c":"t.cell","n":3,"p":0.096},{"c":"t.cell","n":4,"p":0.105},{"c":"monocyte","n":1,"p":0.032},{"c":"monocyte","n":2,"p":0.026},{"c":"monocyte","n":3,"p":0},{"c":"monocyte","n":4,"p":0.004}],
"urine_donor10":[{"c":"epithelial","n":1,"p":0.215},{"c":"epithelial","n":2,"p":0.191},{"c":"epithelial","n":3,"p":0.218},{"c":"epithelial","n":4,"p":0.212},{"c":"neutrophil","n":1,"p":0.172},{"c":"neutrophil","n":2,"p":0.151},{"c":"neutrophil","n":3,"p":0.155},{"c":"neutrophil","n":4,"p":0.151},{"c":"macrophage","n":1,"p":0.121},{"c":"macrophage","n":2,"p":0.106},{"c":"macrophage","n":3,"p":0.116},{"c":"macrophage","n":4,"p":0.109},{"c":"t.cell","n":1,"p":0.094},{"c":"t.cell","n":2,"p":0.102},{"c":"t.cell","n":3,"p":0.088},{"c":"t.cell","n":4,"p":0.084},{"c":"monocyte","n":1,"p":0.041},{"c":"monocyte","n":2,"p":0.045},{"c":"monocyte","n":3,"p":0.046},{"c":"monocyte","n":4,"p":0.015}],
"urine_donor13":[{"c":"epithelial","n":1,"p":0.221},{"c":"epithelial","n":2,"p":0.218},{"c":"epithelial","n":3,"p":0.127},{"c":"epithelial","n":4,"p":0.124},{"c":"neutrophil","n":1,"p":0.191},{"c":"neutrophil","n":2,"p":0.2},{"c":"neutrophil","n":3,"p":0.279},{"c":"neutrophil","n":4,"p":0.198},{"c":"macrophage","n":1,"p":0.094},{"c":"macrophage","n":2,"p":0.094},{"c":"macrophage","n":3,"p":0.066},{"c":"macrophage","n":4,"p":0.102},{"c":"t.cell","n":1,"p":0.074},{"c":"t.cell","n":2,"p":0.079},{"c":"t.cell","n":3,"p":0.08},{"c":"t.cell","n":4,"p":0.102},{"c":"monocyte","n":1,"p":0.027},{"c":"monocyte","n":2,"p":0.035},{"c":"monocyte","n":3,"p":0.072},{"c":"monocyte","n":4,"p":0.041}],
"urine_donor15":[{"c":"epithelial","n":1,"p":0.149},{"c":"epithelial","n":2,"p":0.176},{"c":"epithelial","n":3,"p":0.178},{"c":"epithelial","n":4,"p":0.123},{"c":"neutrophil","n":1,"p":0.115},{"c":"neutrophil","n":2,"p":0.202},{"c":"neutrophil","n":3,"p":0.185},{"c":"neutrophil","n":4,"p":0.202},{"c":"macrophage","n":1,"p":0.17},{"c":"macrophage","n":2,"p":0.105},{"c":"macrophage","n":3,"p":0.111},{"c":"macrophage","n":4,"p":0.127},{"c":"t.cell","n":1,"p":0.074},{"c":"t.cell","n":2,"p":0.084},{"c":"t.cell","n":3,"p":0.082},{"c":"t.cell","n":4,"p":0.072},{"c":"monocyte","n":1,"p":0.185},{"c":"monocyte","n":2,"p":0.109},{"c":"monocyte","n":3,"p":0.09},{"c":"monocyte","n":4,"p":0.17}],
"urine_donor16":[{"c":"epithelial","n":1,"p":0.109},{"c":"epithelial","n":2,"p":0.102},{"c":"epithelial","n":3,"p":0.157},{"c":"epithelial","n":4,"p":0.188},{"c":"neutrophil","n":1,"p":0.263},{"c":"neutrophil","n":2,"p":0.267},{"c":"neutrophil","n":3,"p":0.206},{"c":"neutrophil","n":4,"p":0.176},{"c":"macrophage","n":1,"p":0.09},{"c":"macrophage","n":2,"p":0.094},{"c":"macrophage","n":3,"p":0.112},{"c":"macrophage","n":4,"p":0.115},{"c":"t.cell","n":1,"p":0.08},{"c":"t.cell","n":2,"p":0.082},{"c":"t.cell","n":3,"p":0.082},{"c":"t.cell","n":4,"p":0.082},{"c":"monocyte","n":1,"p":0.087},{"c":"monocyte","n":2,"p":0.084},{"c":"monocyte","n":3,"p":0.057},{"c":"monocyte","n":4,"p":0.038}],
"urine_donor17":[{"c":"epithelial","n":1,"p":0.135},{"c":"epithelial","n":2,"p":0.178},{"c":"epithelial","n":3,"p":0.124},{"c":"epithelial","n":4,"p":0.115},{"c":"neutrophil","n":1,"p":0.133},{"c":"neutrophil","n":2,"p":0.124},{"c":"neutrophil","n":3,"p":0.08},{"c":"neutrophil","n":4,"p":0.166},{"c":"macrophage","n":1,"p":0.148},{"c":"macrophage","n":2,"p":0.157},{"c":"macrophage","n":3,"p":0.182},{"c":"macrophage","n":4,"p":0.141},{"c":"t.cell","n":1,"p":0.109},{"c":"t.cell","n":2,"p":0.099},{"c":"t.cell","n":3,"p":0.077},{"c":"t.cell","n":4,"p":0.109},{"c":"monocyte","n":1,"p":0.127},{"c":"monocyte","n":2,"p":0.06},{"c":"monocyte","n":3,"p":0.204},{"c":"monocyte","n":4,"p":0.151}],
"urine_donor19":[{"c":"epithelial","n":1,"p":0.194},{"c":"epithelial","n":2,"p":0.261},{"c":"epithelial","n":3,"p":0.224},{"c":"epithelial","n":4,"p":0.251},{"c":"neutrophil","n":1,"p":0.163},{"c":"neutrophil","n":2,"p":0.137},{"c":"neutrophil","n":3,"p":0.173},{"c":"neutrophil","n":4,"p":0.141},{"c":"macrophage","n":1,"p":0.111},{"c":"macrophage","n":2,"p":0.102},{"c":"macrophage","n":3,"p":0.094},{"c":"macrophage","n":4,"p":0.112},{"c":"t.cell","n":1,"p":0.093},{"c":"t.cell","n":2,"p":0.084},{"c":"t.cell","n":3,"p":0.06},{"c":"t.cell","n":4,"p":0.08},{"c":"monocyte","n":1,"p":0.04},{"c":"monocyte","n":2,"p":0.037},{"c":"monocyte","n":3,"p":0.041},{"c":"monocyte","n":4,"p":0.021}]
},
"vconcat":[
{"hconcat":[
 {"width":60,"height":262,"view":{"stroke":null},"data":{"values":[{}]},"mark":{"type":"point","opacity":0},"encoding":{}},
 {"width":215,"height":262,
  "title":{"text":"Cross-tissue variance","anchor":"start","frame":"group","fontSize":13.5,"offset":6},
  "data":{"name":"va"},
  "layer":[
   {"mark":{"type":"rule","color":"#111","strokeWidth":1.1},
    "encoding":{"y":{"field":"v","type":"nominal","sort":null,"scale":{"type":"point","padding":0.6},"axis":{"title":null,"labelFontSize":11.5,"labelColor":"#333"}},
     "x":{"field":"lo","type":"quantitative","scale":{"domain":[-0.137,1.057],"nice":false,"zero":false},
      "axis":{"values":[-0.1,0,0.1,0.2,0.3,0.4,0.5,0.6,0.7,0.8,0.9,1.0],"labelExpr":"abs(round(datum.value*10))%2==1?format(datum.value,'.1f'):''","tickColor":{"condition":{"test":"abs(round(datum.value*10))%2==0","value":"transparent"},"value":"#333"},"title":["Variance Explained","(mean +/- sd)"],"titlePadding":4}},
     "x2":{"field":"hi"}}},
   {"mark":{"type":"circle","color":"#000","size":30,"opacity":1},
    "encoding":{"y":{"field":"v","type":"nominal","sort":null},"x":{"field":"m","type":"quantitative"}}}
  ]},
 {"width":76,"height":262,"view":{"stroke":null},"data":{"values":[{}]},"mark":{"type":"point","opacity":0},"encoding":{}},
 {"width":284,"height":262,
  "title":{"text":"b","anchor":"start","frame":"bounds","fontSize":16,"fontWeight":"bold","offset":3,"dx":18},
  "layer":[
   {"data":{"name":"pts"},"mark":{"type":"circle","size":30,"opacity":0.7},
    "encoding":{"x":{"field":"x","type":"quantitative","scale":{"domain":[-24.1,31.3],"nice":false,"zero":false},
      "axis":{"values":[-20,-15,-10,-5,0,5,10,15,20,25,30],"labelExpr":"datum.value%10==0?format(datum.value,'d'):''","tickColor":{"condition":{"test":"datum.value%10!=0","value":"transparent"},"value":"#333"},"title":"PC1: 69.1% variance","titlePadding":9}},
     "y":{"field":"y","type":"quantitative","scale":{"domain":[-21.4,24.37],"nice":false,"zero":false},
      "axis":{"values":[-20,-15,-10,-5,0,5,10,15,20],"labelExpr":"datum.value%10==0?format(datum.value,'d'):''","tickColor":{"condition":{"test":"datum.value%10!=0","value":"transparent"},"value":"#333"},"title":"PC2: 11.3% variance","titlePadding":6}},
     "color":{"field":"tissue","type":"nominal","scale":{"domain":["buccal","hair","saliva","urine"],"range":["#b2182b","#e0a415","#f4718a","#4583d4"]},
      "legend":{"title":"tissue","orient":"none","legendX":674,"legendY":88,"titleFontSize":13.5,"labelFontSize":12.5,"symbolType":"M-1,0L1,0M0.4,0A0.4,0.4,0,1,1,-0.4,0A0.4,0.4,0,1,1,0.4,0Z","symbolSize":225,"symbolStrokeWidth":1.4,"rowPadding":1.5,"labelOffset":8,
       "encode":{"symbols":{"update":{"fill":{"scale":"color","field":"value"},"stroke":{"scale":"color","field":"value"},"opacity":{"value":1}}}}}}}},
   {"data":{"name":"ell"},"mark":{"type":"line","strokeWidth":1.4,"interpolate":"cardinal-closed"},
    "encoding":{"x":{"field":"x","type":"quantitative"},"y":{"field":"y","type":"quantitative"},"color":{"field":"tissue","type":"nominal"},"order":{"field":"o","type":"quantitative"}}}
  ]}
 ],"spacing":7,"bounds":"flush",
 "title":{"text":"a","anchor":"start","frame":"bounds","fontSize":16,"fontWeight":"bold","offset":-16}},
{"concat":[
 {"width":73,"height":116,"resolve":{"axis":{"x":"independent","y":"independent"}},"layer":[{"data":{"name":"buccal_donor5"},"mark":{"type":"line","strokeWidth":1.7},"encoding":{"x":{"field":"n","type":"quantitative","scale":{"domain":[0.85,4.15],"nice":false,"zero":false},"axis":{"values":[1,1.5,2,2.5,3,3.5,4],"labels":false,"ticks":false,"title":null}},"y":{"field":"p","type":"quantitative","scale":{"domain":[-0.0195,0.408],"nice":false,"zero":false},"axis":{"values":[0,0.05,0.1,0.15,0.2,0.25,0.3,0.35],"labelExpr":"round(datum.value*20)%2==0?format(datum.value,'.1f'):''","tickColor":{"condition":{"test":"round(datum.value*20)%2==1","value":"transparent"},"value":"#333"},"title":null}},"stroke":{"field":"c","type":"nominal","scale":{"domain":["epithelial","neutrophil","macrophage","t.cell","monocyte"],"range":["#e41a1c","#4a86c8","#4daf4a","#984ea3","#ff7f00"]},"legend":{"title":"Cell types","orient":"none","legendX":109,"legendY":335,"direction":"horizontal","titleOrient":"left","titleFontSize":13.5,"labelFontSize":11.5,"symbolType":"stroke","symbolSize":300,"symbolStrokeWidth":2.2,"columnPadding":7,"labelOffset":8,"titlePadding":9}}}},{"data":{"values":[{"lab":"donor5"}]},"mark":{"type":"rect","fill":"#d9d9d9","stroke":"#333","strokeWidth":1.2},"encoding":{"x":{"datum":0.85,"type":"quantitative","axis":null},"x2":{"datum":4.15},"y":{"datum":0.408,"type":"quantitative","axis":null},"y2":{"datum":0.489}}},{"data":{"values":[{"lab":"donor5"}]},"mark":{"type":"text","fontSize":12,"color":"#1a1a1a"},"encoding":{"x":{"datum":2.5,"type":"quantitative","axis":null},"y":{"datum":0.4485,"type":"quantitative","axis":null},"text":{"field":"lab"}}}]},
 {"width":73,"height":116,"resolve":{"axis":{"x":"independent","y":"independent"}},"layer":[{"data":{"name":"buccal_donor7"},"mark":{"type":"line","strokeWidth":1.7},"encoding":{"x":{"field":"n","type":"quantitative","scale":{"domain":[0.85,4.15],"nice":false,"zero":false},"axis":{"values":[1,1.5,2,2.5,3,3.5,4],"labels":false,"ticks":false,"title":null}},"y":{"field":"p","type":"quantitative","scale":{"domain":[-0.0195,0.408],"nice":false,"zero":false},"axis":{"values":[0,0.05,0.1,0.15,0.2,0.25,0.3,0.35],"labels":false,"ticks":false,"title":null}},"stroke":{"field":"c","type":"nominal","scale":{"domain":["epithelial","neutrophil","macrophage","t.cell","monocyte"],"range":["#e41a1c","#4a86c8","#4daf4a","#984ea3","#ff7f00"]}}}},{"data":{"values":[{"lab":"donor7"}]},"mark":{"type":"rect","fill":"#d9d9d9","stroke":"#333","strokeWidth":1.2},"encoding":{"x":{"datum":0.85,"type":"quantitative","axis":null},"x2":{"datum":4.15},"y":{"datum":0.408,"type":"quantitative","axis":null},"y2":{"datum":0.489}}},{"data":{"values":[{"lab":"donor7"}]},"mark":{"type":"text","fontSize":12,"color":"#1a1a1a"},"encoding":{"x":{"datum":2.5,"type":"quantitative","axis":null},"y":{"datum":0.4485,"type":"quantitative","axis":null},"text":{"field":"lab"}}}]},
 {"width":73,"height":116,"resolve":{"axis":{"x":"independent","y":"independent"}},"layer":[{"data":{"name":"buccal_donor9"},"mark":{"type":"line","strokeWidth":1.7},"encoding":{"x":{"field":"n","type":"quantitative","scale":{"domain":[0.85,4.15],"nice":false,"zero":false},"axis":{"values":[1,1.5,2,2.5,3,3.5,4],"labels":false,"ticks":false,"title":null}},"y":{"field":"p","type":"quantitative","scale":{"domain":[-0.0195,0.408],"nice":false,"zero":false},"axis":{"values":[0,0.05,0.1,0.15,0.2,0.25,0.3,0.35],"labels":false,"ticks":false,"title":null}},"stroke":{"field":"c","type":"nominal","scale":{"domain":["epithelial","neutrophil","macrophage","t.cell","monocyte"],"range":["#e41a1c","#4a86c8","#4daf4a","#984ea3","#ff7f00"]}}}},{"data":{"values":[{"lab":"donor9"}]},"mark":{"type":"rect","fill":"#d9d9d9","stroke":"#333","strokeWidth":1.2},"encoding":{"x":{"datum":0.85,"type":"quantitative","axis":null},"x2":{"datum":4.15},"y":{"datum":0.408,"type":"quantitative","axis":null},"y2":{"datum":0.489}}},{"data":{"values":[{"lab":"donor9"}]},"mark":{"type":"text","fontSize":12,"color":"#1a1a1a"},"encoding":{"x":{"datum":2.5,"type":"quantitative","axis":null},"y":{"datum":0.4485,"type":"quantitative","axis":null},"text":{"field":"lab"}}}]},
 {"width":73,"height":116,"resolve":{"axis":{"x":"independent","y":"independent"}},"layer":[{"data":{"name":"buccal_donor10"},"mark":{"type":"line","strokeWidth":1.7},"encoding":{"x":{"field":"n","type":"quantitative","scale":{"domain":[0.85,4.15],"nice":false,"zero":false},"axis":{"values":[1,1.5,2,2.5,3,3.5,4],"labels":false,"ticks":false,"title":null}},"y":{"field":"p","type":"quantitative","scale":{"domain":[-0.0195,0.408],"nice":false,"zero":false},"axis":{"values":[0,0.05,0.1,0.15,0.2,0.25,0.3,0.35],"labels":false,"ticks":false,"title":null}},"stroke":{"field":"c","type":"nominal","scale":{"domain":["epithelial","neutrophil","macrophage","t.cell","monocyte"],"range":["#e41a1c","#4a86c8","#4daf4a","#984ea3","#ff7f00"]}}}},{"data":{"values":[{"lab":"donor10"}]},"mark":{"type":"rect","fill":"#d9d9d9","stroke":"#333","strokeWidth":1.2},"encoding":{"x":{"datum":0.85,"type":"quantitative","axis":null},"x2":{"datum":4.15},"y":{"datum":0.408,"type":"quantitative","axis":null},"y2":{"datum":0.489}}},{"data":{"values":[{"lab":"donor10"}]},"mark":{"type":"text","fontSize":12,"color":"#1a1a1a"},"encoding":{"x":{"datum":2.5,"type":"quantitative","axis":null},"y":{"datum":0.4485,"type":"quantitative","axis":null},"text":{"field":"lab"}}}]},
 {"width":73,"height":116,"resolve":{"axis":{"x":"independent","y":"independent"}},"layer":[{"data":{"name":"buccal_donor13"},"mark":{"type":"line","strokeWidth":1.7},"encoding":{"x":{"field":"n","type":"quantitative","scale":{"domain":[0.85,4.15],"nice":false,"zero":false},"axis":{"values":[1,1.5,2,2.5,3,3.5,4],"labels":false,"ticks":false,"title":null}},"y":{"field":"p","type":"quantitative","scale":{"domain":[-0.0195,0.408],"nice":false,"zero":false},"axis":{"values":[0,0.05,0.1,0.15,0.2,0.25,0.3,0.35],"labels":false,"ticks":false,"title":null}},"stroke":{"field":"c","type":"nominal","scale":{"domain":["epithelial","neutrophil","macrophage","t.cell","monocyte"],"range":["#e41a1c","#4a86c8","#4daf4a","#984ea3","#ff7f00"]}}}},{"data":{"values":[{"lab":"donor13"}]},"mark":{"type":"rect","fill":"#d9d9d9","stroke":"#333","strokeWidth":1.2},"encoding":{"x":{"datum":0.85,"type":"quantitative","axis":null},"x2":{"datum":4.15},"y":{"datum":0.408,"type":"quantitative","axis":null},"y2":{"datum":0.489}}},{"data":{"values":[{"lab":"donor13"}]},"mark":{"type":"text","fontSize":12,"color":"#1a1a1a"},"encoding":{"x":{"datum":2.5,"type":"quantitative","axis":null},"y":{"datum":0.4485,"type":"quantitative","axis":null},"text":{"field":"lab"}}}]},
 {"width":73,"height":116,"resolve":{"axis":{"x":"independent","y":"independent"}},"layer":[{"data":{"name":"buccal_donor15"},"mark":{"type":"line","strokeWidth":1.7},"encoding":{"x":{"field":"n","type":"quantitative","scale":{"domain":[0.85,4.15],"nice":false,"zero":false},"axis":{"values":[1,1.5,2,2.5,3,3.5,4],"labels":false,"ticks":false,"title":null}},"y":{"field":"p","type":"quantitative","scale":{"domain":[-0.0195,0.408],"nice":false,"zero":false},"axis":{"values":[0,0.05,0.1,0.15,0.2,0.25,0.3,0.35],"labels":false,"ticks":false,"title":null}},"stroke":{"field":"c","type":"nominal","scale":{"domain":["epithelial","neutrophil","macrophage","t.cell","monocyte"],"range":["#e41a1c","#4a86c8","#4daf4a","#984ea3","#ff7f00"]}}}},{"data":{"values":[{"lab":"donor15"}]},"mark":{"type":"rect","fill":"#d9d9d9","stroke":"#333","strokeWidth":1.2},"encoding":{"x":{"datum":0.85,"type":"quantitative","axis":null},"x2":{"datum":4.15},"y":{"datum":0.408,"type":"quantitative","axis":null},"y2":{"datum":0.489}}},{"data":{"values":[{"lab":"donor15"}]},"mark":{"type":"text","fontSize":12,"color":"#1a1a1a"},"encoding":{"x":{"datum":2.5,"type":"quantitative","axis":null},"y":{"datum":0.4485,"type":"quantitative","axis":null},"text":{"field":"lab"}}}]},
 {"width":73,"height":116,"resolve":{"axis":{"x":"independent","y":"independent"}},"layer":[{"data":{"name":"buccal_donor16"},"mark":{"type":"line","strokeWidth":1.7},"encoding":{"x":{"field":"n","type":"quantitative","scale":{"domain":[0.85,4.15],"nice":false,"zero":false},"axis":{"values":[1,1.5,2,2.5,3,3.5,4],"labels":false,"ticks":false,"title":null}},"y":{"field":"p","type":"quantitative","scale":{"domain":[-0.0195,0.408],"nice":false,"zero":false},"axis":{"values":[0,0.05,0.1,0.15,0.2,0.25,0.3,0.35],"labels":false,"ticks":false,"title":null}},"stroke":{"field":"c","type":"nominal","scale":{"domain":["epithelial","neutrophil","macrophage","t.cell","monocyte"],"range":["#e41a1c","#4a86c8","#4daf4a","#984ea3","#ff7f00"]}}}},{"data":{"values":[{"lab":"donor16"}]},"mark":{"type":"rect","fill":"#d9d9d9","stroke":"#333","strokeWidth":1.2},"encoding":{"x":{"datum":0.85,"type":"quantitative","axis":null},"x2":{"datum":4.15},"y":{"datum":0.408,"type":"quantitative","axis":null},"y2":{"datum":0.489}}},{"data":{"values":[{"lab":"donor16"}]},"mark":{"type":"text","fontSize":12,"color":"#1a1a1a"},"encoding":{"x":{"datum":2.5,"type":"quantitative","axis":null},"y":{"datum":0.4485,"type":"quantitative","axis":null},"text":{"field":"lab"}}}]},
 {"width":73,"height":116,"resolve":{"axis":{"x":"independent","y":"independent"}},"layer":[{"data":{"name":"buccal_donor17"},"mark":{"type":"line","strokeWidth":1.7},"encoding":{"x":{"field":"n","type":"quantitative","scale":{"domain":[0.85,4.15],"nice":false,"zero":false},"axis":{"values":[1,1.5,2,2.5,3,3.5,4],"labels":false,"ticks":false,"title":null}},"y":{"field":"p","type":"quantitative","scale":{"domain":[-0.0195,0.408],"nice":false,"zero":false},"axis":{"values":[0,0.05,0.1,0.15,0.2,0.25,0.3,0.35],"labels":false,"ticks":false,"title":null}},"stroke":{"field":"c","type":"nominal","scale":{"domain":["epithelial","neutrophil","macrophage","t.cell","monocyte"],"range":["#e41a1c","#4a86c8","#4daf4a","#984ea3","#ff7f00"]}}}},{"data":{"values":[{"lab":"donor17"}]},"mark":{"type":"rect","fill":"#d9d9d9","stroke":"#333","strokeWidth":1.2},"encoding":{"x":{"datum":0.85,"type":"quantitative","axis":null},"x2":{"datum":4.15},"y":{"datum":0.408,"type":"quantitative","axis":null},"y2":{"datum":0.489}}},{"data":{"values":[{"lab":"donor17"}]},"mark":{"type":"text","fontSize":12,"color":"#1a1a1a"},"encoding":{"x":{"datum":2.5,"type":"quantitative","axis":null},"y":{"datum":0.4485,"type":"quantitative","axis":null},"text":{"field":"lab"}}}]},
 {"width":73,"height":116,"resolve":{"axis":{"x":"independent","y":"independent"}},"layer":[{"data":{"name":"buccal_donor19"},"mark":{"type":"line","strokeWidth":1.7},"encoding":{"x":{"field":"n","type":"quantitative","scale":{"domain":[0.85,4.15],"nice":false,"zero":false},"axis":{"values":[1,1.5,2,2.5,3,3.5,4],"labels":false,"ticks":false,"title":null}},"y":{"field":"p","type":"quantitative","scale":{"domain":[-0.0195,0.408],"nice":false,"zero":false},"axis":{"values":[0,0.05,0.1,0.15,0.2,0.25,0.3,0.35],"labels":false,"ticks":false,"title":null}},"stroke":{"field":"c","type":"nominal","scale":{"domain":["epithelial","neutrophil","macrophage","t.cell","monocyte"],"range":["#e41a1c","#4a86c8","#4daf4a","#984ea3","#ff7f00"]}}}},{"data":{"values":[{"lab":"donor19"}]},"mark":{"type":"rect","fill":"#d9d9d9","stroke":"#333","strokeWidth":1.2},"encoding":{"x":{"datum":0.85,"type":"quantitative","axis":null},"x2":{"datum":4.15},"y":{"datum":0.408,"type":"quantitative","axis":null},"y2":{"datum":0.489}}},{"data":{"values":[{"lab":"donor19"}]},"mark":{"type":"text","fontSize":12,"color":"#1a1a1a"},"encoding":{"x":{"datum":2.5,"type":"quantitative","axis":null},"y":{"datum":0.4485,"type":"quantitative","axis":null},"text":{"field":"lab"}}},{"data":{"values":[{"lab":"buccal"}]},"mark":{"type":"rect","fill":"#d9d9d9","stroke":"#333","strokeWidth":1.2},"encoding":{"x":{"datum":4.195,"type":"quantitative","axis":null},"x2":{"datum":5.19},"y":{"datum":-0.0195,"type":"quantitative","axis":null},"y2":{"datum":0.408}}},{"data":{"values":[{"lab":"buccal"}]},"mark":{"type":"text","fontSize":12,"color":"#1a1a1a","angle":90},"encoding":{"x":{"datum":4.69,"type":"quantitative","axis":null},"y":{"datum":0.194,"type":"quantitative","axis":null},"text":{"field":"lab"}}}]},
 {"width":73,"height":116,"layer":[{"data":{"name":"hair_donor5"},"mark":{"type":"line","strokeWidth":1.7},"encoding":{"x":{"field":"n","type":"quantitative","scale":{"domain":[0.85,4.15],"nice":false,"zero":false},"axis":{"values":[1,1.5,2,2.5,3,3.5,4],"labels":false,"ticks":false,"title":null}},"y":{"field":"p","type":"quantitative","scale":{"domain":[-0.0195,0.408],"nice":false,"zero":false},"axis":{"values":[0,0.05,0.1,0.15,0.2,0.25,0.3,0.35],"labelExpr":"round(datum.value*20)%2==0?format(datum.value,'.1f'):''","tickColor":{"condition":{"test":"round(datum.value*20)%2==1","value":"transparent"},"value":"#333"},"title":"proportion","titlePadding":4}},"stroke":{"field":"c","type":"nominal","scale":{"domain":["epithelial","neutrophil","macrophage","t.cell","monocyte"],"range":["#e41a1c","#4a86c8","#4daf4a","#984ea3","#ff7f00"]}}}}]},
 {"width":73,"height":116,"layer":[{"data":{"name":"hair_donor7"},"mark":{"type":"line","strokeWidth":1.7},"encoding":{"x":{"field":"n","type":"quantitative","scale":{"domain":[0.85,4.15],"nice":false,"zero":false},"axis":{"values":[1,1.5,2,2.5,3,3.5,4],"labels":false,"ticks":false,"title":null}},"y":{"field":"p","type":"quantitative","scale":{"domain":[-0.0195,0.408],"nice":false,"zero":false},"axis":{"values":[0,0.05,0.1,0.15,0.2,0.25,0.3,0.35],"labels":false,"ticks":false,"title":null}},"stroke":{"field":"c","type":"nominal","scale":{"domain":["epithelial","neutrophil","macrophage","t.cell","monocyte"],"range":["#e41a1c","#4a86c8","#4daf4a","#984ea3","#ff7f00"]}}}}]},
 {"width":73,"height":116,"layer":[{"data":{"name":"hair_donor9"},"mark":{"type":"line","strokeWidth":1.7},"encoding":{"x":{"field":"n","type":"quantitative","scale":{"domain":[0.85,4.15],"nice":false,"zero":false},"axis":{"values":[1,1.5,2,2.5,3,3.5,4],"labels":false,"ticks":false,"title":null}},"y":{"field":"p","type":"quantitative","scale":{"domain":[-0.0195,0.408],"nice":false,"zero":false},"axis":{"values":[0,0.05,0.1,0.15,0.2,0.25,0.3,0.35],"labels":false,"ticks":false,"title":null}},"stroke":{"field":"c","type":"nominal","scale":{"domain":["epithelial","neutrophil","macrophage","t.cell","monocyte"],"range":["#e41a1c","#4a86c8","#4daf4a","#984ea3","#ff7f00"]}}}}]},
 {"width":73,"height":116,"layer":[{"data":{"name":"hair_donor10"},"mark":{"type":"line","strokeWidth":1.7},"encoding":{"x":{"field":"n","type":"quantitative","scale":{"domain":[0.85,4.15],"nice":false,"zero":false},"axis":{"values":[1,1.5,2,2.5,3,3.5,4],"labels":false,"ticks":false,"title":null}},"y":{"field":"p","type":"quantitative","scale":{"domain":[-0.0195,0.408],"nice":false,"zero":false},"axis":{"values":[0,0.05,0.1,0.15,0.2,0.25,0.3,0.35],"labels":false,"ticks":false,"title":null}},"stroke":{"field":"c","type":"nominal","scale":{"domain":["epithelial","neutrophil","macrophage","t.cell","monocyte"],"range":["#e41a1c","#4a86c8","#4daf4a","#984ea3","#ff7f00"]}}}}]},
 {"width":73,"height":116,"layer":[{"data":{"name":"hair_donor13"},"mark":{"type":"line","strokeWidth":1.7},"encoding":{"x":{"field":"n","type":"quantitative","scale":{"domain":[0.85,4.15],"nice":false,"zero":false},"axis":{"values":[1,1.5,2,2.5,3,3.5,4],"labels":false,"ticks":false,"title":null}},"y":{"field":"p","type":"quantitative","scale":{"domain":[-0.0195,0.408],"nice":false,"zero":false},"axis":{"values":[0,0.05,0.1,0.15,0.2,0.25,0.3,0.35],"labels":false,"ticks":false,"title":null}},"stroke":{"field":"c","type":"nominal","scale":{"domain":["epithelial","neutrophil","macrophage","t.cell","monocyte"],"range":["#e41a1c","#4a86c8","#4daf4a","#984ea3","#ff7f00"]}}}}]},
 {"width":73,"height":116,"layer":[{"data":{"name":"hair_donor15"},"mark":{"type":"line","strokeWidth":1.7},"encoding":{"x":{"field":"n","type":"quantitative","scale":{"domain":[0.85,4.15],"nice":false,"zero":false},"axis":{"values":[1,1.5,2,2.5,3,3.5,4],"labels":false,"ticks":false,"title":null}},"y":{"field":"p","type":"quantitative","scale":{"domain":[-0.0195,0.408],"nice":false,"zero":false},"axis":{"values":[0,0.05,0.1,0.15,0.2,0.25,0.3,0.35],"labels":false,"ticks":false,"title":null}},"stroke":{"field":"c","type":"nominal","scale":{"domain":["epithelial","neutrophil","macrophage","t.cell","monocyte"],"range":["#e41a1c","#4a86c8","#4daf4a","#984ea3","#ff7f00"]}}}}]},
 {"width":73,"height":116,"layer":[{"data":{"name":"hair_donor16"},"mark":{"type":"line","strokeWidth":1.7},"encoding":{"x":{"field":"n","type":"quantitative","scale":{"domain":[0.85,4.15],"nice":false,"zero":false},"axis":{"values":[1,1.5,2,2.5,3,3.5,4],"labels":false,"ticks":false,"title":null}},"y":{"field":"p","type":"quantitative","scale":{"domain":[-0.0195,0.408],"nice":false,"zero":false},"axis":{"values":[0,0.05,0.1,0.15,0.2,0.25,0.3,0.35],"labels":false,"ticks":false,"title":null}},"stroke":{"field":"c","type":"nominal","scale":{"domain":["epithelial","neutrophil","macrophage","t.cell","monocyte"],"range":["#e41a1c","#4a86c8","#4daf4a","#984ea3","#ff7f00"]}}}}]},
 {"width":73,"height":116,"layer":[{"data":{"name":"hair_donor17"},"mark":{"type":"line","strokeWidth":1.7},"encoding":{"x":{"field":"n","type":"quantitative","scale":{"domain":[0.85,4.15],"nice":false,"zero":false},"axis":{"values":[1,1.5,2,2.5,3,3.5,4],"labels":false,"ticks":false,"title":null}},"y":{"field":"p","type":"quantitative","scale":{"domain":[-0.0195,0.408],"nice":false,"zero":false},"axis":{"values":[0,0.05,0.1,0.15,0.2,0.25,0.3,0.35],"labels":false,"ticks":false,"title":null}},"stroke":{"field":"c","type":"nominal","scale":{"domain":["epithelial","neutrophil","macrophage","t.cell","monocyte"],"range":["#e41a1c","#4a86c8","#4daf4a","#984ea3","#ff7f00"]}}}}]},
 {"width":73,"height":116,"resolve":{"axis":{"x":"independent","y":"independent"}},"layer":[{"data":{"name":"hair_donor19"},"mark":{"type":"line","strokeWidth":1.7},"encoding":{"x":{"field":"n","type":"quantitative","scale":{"domain":[0.85,4.15],"nice":false,"zero":false},"axis":{"values":[1,1.5,2,2.5,3,3.5,4],"labels":false,"ticks":false,"title":null}},"y":{"field":"p","type":"quantitative","scale":{"domain":[-0.0195,0.408],"nice":false,"zero":false},"axis":{"values":[0,0.05,0.1,0.15,0.2,0.25,0.3,0.35],"labels":false,"ticks":false,"title":null}},"stroke":{"field":"c","type":"nominal","scale":{"domain":["epithelial","neutrophil","macrophage","t.cell","monocyte"],"range":["#e41a1c","#4a86c8","#4daf4a","#984ea3","#ff7f00"]}}}},{"data":{"values":[{"lab":"hair"}]},"mark":{"type":"rect","fill":"#d9d9d9","stroke":"#333","strokeWidth":1.2},"encoding":{"x":{"datum":4.195,"type":"quantitative","axis":null},"x2":{"datum":5.19},"y":{"datum":-0.0195,"type":"quantitative","axis":null},"y2":{"datum":0.408}}},{"data":{"values":[{"lab":"hair"}]},"mark":{"type":"text","fontSize":12,"color":"#1a1a1a","angle":90},"encoding":{"x":{"datum":4.69,"type":"quantitative","axis":null},"y":{"datum":0.194,"type":"quantitative","axis":null},"text":{"field":"lab"}}}]},
 {"width":73,"height":116,"layer":[{"data":{"name":"urine_donor5"},"mark":{"type":"line","strokeWidth":1.7},"encoding":{"x":{"field":"n","type":"quantitative","scale":{"domain":[0.85,4.15],"nice":false,"zero":false},"axis":{"values":[1,1.5,2,2.5,3,3.5,4],"labelExpr":"datum.value%1==0?format(datum.value,'d'):''","tickColor":{"condition":{"test":"datum.value%1!=0","value":"transparent"},"value":"#333"},"labelFontSize":12,"title":null}},"y":{"field":"p","type":"quantitative","scale":{"domain":[-0.0195,0.408],"nice":false,"zero":false},"axis":{"values":[0,0.05,0.1,0.15,0.2,0.25,0.3,0.35],"labelExpr":"round(datum.value*20)%2==0?format(datum.value,'.1f'):''","tickColor":{"condition":{"test":"round(datum.value*20)%2==1","value":"transparent"},"value":"#333"},"title":null}},"stroke":{"field":"c","type":"nominal","scale":{"domain":["epithelial","neutrophil","macrophage","t.cell","monocyte"],"range":["#e41a1c","#4a86c8","#4daf4a","#984ea3","#ff7f00"]}}}}]},
 {"width":73,"height":116,"layer":[{"data":{"name":"urine_donor7"},"mark":{"type":"line","strokeWidth":1.7},"encoding":{"x":{"field":"n","type":"quantitative","scale":{"domain":[0.85,4.15],"nice":false,"zero":false},"axis":{"values":[1,1.5,2,2.5,3,3.5,4],"labelExpr":"datum.value%1==0?format(datum.value,'d'):''","tickColor":{"condition":{"test":"datum.value%1!=0","value":"transparent"},"value":"#333"},"labelFontSize":12,"title":null}},"y":{"field":"p","type":"quantitative","scale":{"domain":[-0.0195,0.408],"nice":false,"zero":false},"axis":{"values":[0,0.05,0.1,0.15,0.2,0.25,0.3,0.35],"labels":false,"ticks":false,"title":null}},"stroke":{"field":"c","type":"nominal","scale":{"domain":["epithelial","neutrophil","macrophage","t.cell","monocyte"],"range":["#e41a1c","#4a86c8","#4daf4a","#984ea3","#ff7f00"]}}}}]},
 {"width":73,"height":116,"layer":[{"data":{"name":"urine_donor9"},"mark":{"type":"line","strokeWidth":1.7},"encoding":{"x":{"field":"n","type":"quantitative","scale":{"domain":[0.85,4.15],"nice":false,"zero":false},"axis":{"values":[1,1.5,2,2.5,3,3.5,4],"labelExpr":"datum.value%1==0?format(datum.value,'d'):''","tickColor":{"condition":{"test":"datum.value%1!=0","value":"transparent"},"value":"#333"},"labelFontSize":12,"title":null}},"y":{"field":"p","type":"quantitative","scale":{"domain":[-0.0195,0.408],"nice":false,"zero":false},"axis":{"values":[0,0.05,0.1,0.15,0.2,0.25,0.3,0.35],"labels":false,"ticks":false,"title":null}},"stroke":{"field":"c","type":"nominal","scale":{"domain":["epithelial","neutrophil","macrophage","t.cell","monocyte"],"range":["#e41a1c","#4a86c8","#4daf4a","#984ea3","#ff7f00"]}}}}]},
 {"width":73,"height":116,"layer":[{"data":{"name":"urine_donor10"},"mark":{"type":"line","strokeWidth":1.7},"encoding":{"x":{"field":"n","type":"quantitative","scale":{"domain":[0.85,4.15],"nice":false,"zero":false},"axis":{"values":[1,1.5,2,2.5,3,3.5,4],"labelExpr":"datum.value%1==0?format(datum.value,'d'):''","tickColor":{"condition":{"test":"datum.value%1!=0","value":"transparent"},"value":"#333"},"labelFontSize":12,"title":null}},"y":{"field":"p","type":"quantitative","scale":{"domain":[-0.0195,0.408],"nice":false,"zero":false},"axis":{"values":[0,0.05,0.1,0.15,0.2,0.25,0.3,0.35],"labels":false,"ticks":false,"title":null}},"stroke":{"field":"c","type":"nominal","scale":{"domain":["epithelial","neutrophil","macrophage","t.cell","monocyte"],"range":["#e41a1c","#4a86c8","#4daf4a","#984ea3","#ff7f00"]}}}}]},
 {"width":73,"height":116,"layer":[{"data":{"name":"urine_donor13"},"mark":{"type":"line","strokeWidth":1.7},"encoding":{"x":{"field":"n","type":"quantitative","scale":{"domain":[0.85,4.15],"nice":false,"zero":false},"axis":{"values":[1,1.5,2,2.5,3,3.5,4],"labelExpr":"datum.value%1==0?format(datum.value,'d'):''","tickColor":{"condition":{"test":"datum.value%1!=0","value":"transparent"},"value":"#333"},"labelFontSize":12,"title":"Collection Number","titlePadding":2}},"y":{"field":"p","type":"quantitative","scale":{"domain":[-0.0195,0.408],"nice":false,"zero":false},"axis":{"values":[0,0.05,0.1,0.15,0.2,0.25,0.3,0.35],"labels":false,"ticks":false,"title":null}},"stroke":{"field":"c","type":"nominal","scale":{"domain":["epithelial","neutrophil","macrophage","t.cell","monocyte"],"range":["#e41a1c","#4a86c8","#4daf4a","#984ea3","#ff7f00"]}}}}]},
 {"width":73,"height":116,"layer":[{"data":{"name":"urine_donor15"},"mark":{"type":"line","strokeWidth":1.7},"encoding":{"x":{"field":"n","type":"quantitative","scale":{"domain":[0.85,4.15],"nice":false,"zero":false},"axis":{"values":[1,1.5,2,2.5,3,3.5,4],"labelExpr":"datum.value%1==0?format(datum.value,'d'):''","tickColor":{"condition":{"test":"datum.value%1!=0","value":"transparent"},"value":"#333"},"labelFontSize":12,"title":null}},"y":{"field":"p","type":"quantitative","scale":{"domain":[-0.0195,0.408],"nice":false,"zero":false},"axis":{"values":[0,0.05,0.1,0.15,0.2,0.25,0.3,0.35],"labels":false,"ticks":false,"title":null}},"stroke":{"field":"c","type":"nominal","scale":{"domain":["epithelial","neutrophil","macrophage","t.cell","monocyte"],"range":["#e41a1c","#4a86c8","#4daf4a","#984ea3","#ff7f00"]}}}}]},
 {"width":73,"height":116,"layer":[{"data":{"name":"urine_donor16"},"mark":{"type":"line","strokeWidth":1.7},"encoding":{"x":{"field":"n","type":"quantitative","scale":{"domain":[0.85,4.15],"nice":false,"zero":false},"axis":{"values":[1,1.5,2,2.5,3,3.5,4],"labelExpr":"datum.value%1==0?format(datum.value,'d'):''","tickColor":{"condition":{"test":"datum.value%1!=0","value":"transparent"},"value":"#333"},"labelFontSize":12,"title":null}},"y":{"field":"p","type":"quantitative","scale":{"domain":[-0.0195,0.408],"nice":false,"zero":false},"axis":{"values":[0,0.05,0.1,0.15,0.2,0.25,0.3,0.35],"labels":false,"ticks":false,"title":null}},"stroke":{"field":"c","type":"nominal","scale":{"domain":["epithelial","neutrophil","macrophage","t.cell","monocyte"],"range":["#e41a1c","#4a86c8","#4daf4a","#984ea3","#ff7f00"]}}}}]},
 {"width":73,"height":116,"layer":[{"data":{"name":"urine_donor17"},"mark":{"type":"line","strokeWidth":1.7},"encoding":{"x":{"field":"n","type":"quantitative","scale":{"domain":[0.85,4.15],"nice":false,"zero":false},"axis":{"values":[1,1.5,2,2.5,3,3.5,4],"labelExpr":"datum.value%1==0?format(datum.value,'d'):''","tickColor":{"condition":{"test":"datum.value%1!=0","value":"transparent"},"value":"#333"},"labelFontSize":12,"title":null}},"y":{"field":"p","type":"quantitative","scale":{"domain":[-0.0195,0.408],"nice":false,"zero":false},"axis":{"values":[0,0.05,0.1,0.15,0.2,0.25,0.3,0.35],"labels":false,"ticks":false,"title":null}},"stroke":{"field":"c","type":"nominal","scale":{"domain":["epithelial","neutrophil","macrophage","t.cell","monocyte"],"range":["#e41a1c","#4a86c8","#4daf4a","#984ea3","#ff7f00"]}}}}]},
 {"width":73,"height":116,"resolve":{"axis":{"x":"independent","y":"independent"}},"layer":[{"data":{"name":"urine_donor19"},"mark":{"type":"line","strokeWidth":1.7},"encoding":{"x":{"field":"n","type":"quantitative","scale":{"domain":[0.85,4.15],"nice":false,"zero":false},"axis":{"values":[1,1.5,2,2.5,3,3.5,4],"labelExpr":"datum.value%1==0?format(datum.value,'d'):''","tickColor":{"condition":{"test":"datum.value%1!=0","value":"transparent"},"value":"#333"},"labelFontSize":12,"title":null}},"y":{"field":"p","type":"quantitative","scale":{"domain":[-0.0195,0.408],"nice":false,"zero":false},"axis":{"values":[0,0.05,0.1,0.15,0.2,0.25,0.3,0.35],"labels":false,"ticks":false,"title":null}},"stroke":{"field":"c","type":"nominal","scale":{"domain":["epithelial","neutrophil","macrophage","t.cell","monocyte"],"range":["#e41a1c","#4a86c8","#4daf4a","#984ea3","#ff7f00"]}}}},{"data":{"values":[{"lab":"urine"}]},"mark":{"type":"rect","fill":"#d9d9d9","stroke":"#333","strokeWidth":1.2},"encoding":{"x":{"datum":4.195,"type":"quantitative","axis":null},"x2":{"datum":5.19},"y":{"datum":-0.0195,"type":"quantitative","axis":null},"y2":{"datum":0.408}}},{"data":{"values":[{"lab":"urine"}]},"mark":{"type":"text","fontSize":12,"color":"#1a1a1a","angle":90},"encoding":{"x":{"datum":4.69,"type":"quantitative","axis":null},"y":{"datum":0.194,"type":"quantitative","axis":null},"text":{"field":"lab"}}}]}
 ],
 "columns":9,"bounds":"flush","spacing":{"row":6,"column":7},
 "title":{"text":"c","anchor":"start","frame":"bounds","fontSize":16,"fontWeight":"bold","offset":18}}
],"spacing":24}
